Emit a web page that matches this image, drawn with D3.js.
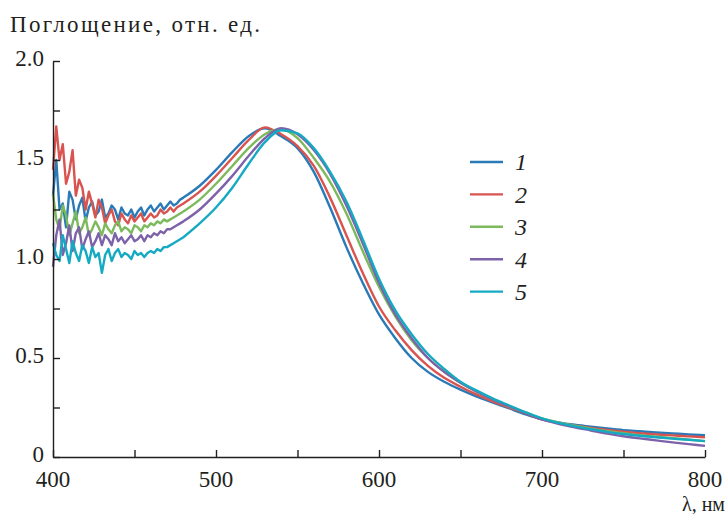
<!DOCTYPE html>
<html>
<head>
<meta charset="utf-8">
<script src="https://cdn.jsdelivr.net/npm/d3@7"></script>
<style>
  body { margin: 0; background: #fff; }
</style>
</head>
<body>
<svg id="chart" width="728" height="514"></svg>
<script>
// wavelengths, nm: dense where the spectra are noisy, coarser afterwards
const wavelengths = [
  400, 402, 404, 406, 408, 410, 412, 414, 416, 418,
  420, 422, 424, 426, 428, 430, 432, 434, 436, 438,
  440, 442, 444, 446, 448, 450, 452, 454, 456, 458,
  460, 462, 464, 466, 468, 470, 472, 474, 476, 478,
  480, 490, 500, 510, 520, 530, 540, 550, 560, 570,
  580, 590, 600, 610, 620, 630, 640, 650, 660, 670,
  680, 690, 700, 710, 720, 730, 740, 750, 760, 770,
  780, 790, 800
];

const series1 = [
  1.32, 1.50, 1.25, 1.28, 1.16, 1.34, 1.30, 1.20, 1.27, 1.31,
  1.19, 1.26, 1.29, 1.22, 1.24, 1.30, 1.21, 1.23, 1.27, 1.25,
  1.20, 1.26, 1.23, 1.22, 1.25, 1.21, 1.24, 1.26, 1.22, 1.25,
  1.27, 1.24, 1.26, 1.28, 1.25, 1.27, 1.29, 1.27, 1.28, 1.30,
  1.31, 1.37, 1.45, 1.54, 1.62, 1.66, 1.62, 1.56, 1.44, 1.26,
  1.06, 0.88, 0.72, 0.60, 0.50, 0.43, 0.38, 0.34, 0.305, 0.275,
  0.245, 0.215, 0.19, 0.175, 0.163, 0.153, 0.144, 0.136, 0.13, 0.124,
  0.119, 0.114, 0.11
];
const series2 = [
  1.45, 1.67, 1.50, 1.58, 1.38, 1.44, 1.55, 1.32, 1.40, 1.36,
  1.25, 1.34, 1.28, 1.21, 1.30, 1.26, 1.18, 1.22, 1.25, 1.19,
  1.17, 1.23, 1.20, 1.18, 1.22, 1.19, 1.21, 1.23, 1.19, 1.21,
  1.23, 1.21, 1.22, 1.25, 1.23, 1.24, 1.26, 1.24, 1.26, 1.27,
  1.28, 1.34, 1.42, 1.51, 1.60, 1.665, 1.63, 1.57, 1.47, 1.31,
  1.12, 0.93, 0.76, 0.64, 0.54, 0.46, 0.40, 0.355, 0.315, 0.28,
  0.25, 0.22, 0.19, 0.172, 0.158, 0.147, 0.137, 0.128, 0.12, 0.114,
  0.109, 0.104, 0.10
];
const series3 = [
  1.33, 1.20, 1.15, 1.27, 1.22, 1.12, 1.18, 1.24, 1.13, 1.16,
  1.21, 1.12, 1.15, 1.19, 1.16, 1.12, 1.18, 1.15, 1.13, 1.17,
  1.19, 1.14, 1.16, 1.15, 1.13, 1.17, 1.16, 1.14, 1.17, 1.16,
  1.18, 1.17, 1.19, 1.18, 1.20, 1.19, 1.20, 1.21, 1.22, 1.23,
  1.24, 1.30, 1.38, 1.47, 1.56, 1.63, 1.655, 1.61, 1.51, 1.39,
  1.23, 1.04, 0.86, 0.71, 0.59, 0.50, 0.43, 0.375, 0.33, 0.29,
  0.255, 0.225, 0.195, 0.175, 0.158, 0.143, 0.13, 0.12, 0.11, 0.102,
  0.095, 0.088, 0.08
];
const series4 = [
  0.96, 1.12, 1.20, 1.02, 1.08, 1.17, 1.04, 1.13, 1.16, 1.05,
  1.10, 1.14, 1.06, 1.09, 1.13, 1.07, 1.12, 1.10, 1.07, 1.13,
  1.09, 1.11, 1.08, 1.10, 1.12, 1.09, 1.10, 1.12, 1.09, 1.12,
  1.11, 1.13, 1.12, 1.14, 1.13, 1.15, 1.15, 1.16, 1.17, 1.18,
  1.19, 1.25, 1.33, 1.42, 1.52, 1.61, 1.66, 1.63, 1.55, 1.43,
  1.27, 1.08, 0.88, 0.72, 0.60, 0.50, 0.43, 0.375, 0.33, 0.29,
  0.255, 0.222, 0.19, 0.168, 0.15, 0.134, 0.118, 0.105, 0.094, 0.084,
  0.074, 0.065, 0.056
];
const series5 = [
  1.08, 1.02, 0.99, 1.12, 1.05, 0.98, 1.09, 1.03, 0.99, 1.07,
  1.04, 0.98, 1.06, 1.01, 1.03, 0.93, 1.02, 1.05, 0.99, 1.03,
  1.05, 1.01, 1.03, 1.02, 1.00, 1.04, 1.02, 1.03, 1.01, 1.03,
  1.04, 1.03, 1.05, 1.04, 1.06, 1.06, 1.07, 1.08, 1.09, 1.10,
  1.11, 1.18, 1.26, 1.36, 1.48, 1.59, 1.65, 1.635, 1.56, 1.44,
  1.29, 1.10, 0.90, 0.74, 0.62, 0.52, 0.445, 0.38, 0.335, 0.295,
  0.26, 0.225, 0.195, 0.172, 0.155, 0.14, 0.127, 0.116, 0.107, 0.10,
  0.093, 0.087, 0.08
];

const seriesLabels = ["1", "2", "3", "4", "5"];
const seriesColors = ["#2a7ab8", "#d9534f", "#7cba5d", "#7d62aa", "#16aac2"];
const xTickLabels = [400, 500, 600, 700, 800];
const yTickLabels = [0, 0.5, 1.0, 1.5, 2.0];

const fontFamily = "'Liberation Serif', 'DejaVu Serif', 'Times New Roman', serif";
const ink = "#231f20";

const svg = d3.select("#chart");
const margin = { left: 53, right: 705, top: 61, bottom: 457 };

const x = d3.scaleLinear().domain([400, 800]).range([margin.left, margin.right]);
const y = d3.scaleLinear().domain([0, 2]).range([margin.bottom, margin.top]);

const allSeries = [series1, series2, series3, series4, series5];
const splitIndex = wavelengths.indexOf(480);

// noisy part joined straight, smooth part with a monotone curve
const noisyLine = d3.line()
  .x(d => x(d[0]))
  .y(d => y(d[1]));
const smoothLine = d3.line()
  .x(d => x(d[0]))
  .y(d => y(d[1]))
  .curve(d3.curveMonotoneX);

const g = svg.append("g");
allSeries.forEach((s, k) => {
  const pts = s.map((v, i) => [wavelengths[i], v]);
  const d = noisyLine(pts.slice(0, splitIndex + 1)) +
    smoothLine(pts.slice(splitIndex)).replace(/^M/, "L");
  g.append("path")
    .attr("d", d)
    .attr("fill", "none")
    .attr("stroke", seriesColors[k])
    .attr("stroke-width", 2.4)
    .attr("stroke-linejoin", "round");
});

// axes (ticks point inward, labels drawn separately)
const xAxis = d3.axisBottom(x)
  .tickValues(d3.range(400, 801, 50))
  .tickSizeInner(-7)
  .tickSizeOuter(0)
  .tickFormat("");
svg.append("g")
  .attr("transform", `translate(0,${margin.bottom})`)
  .call(xAxis)
  .call(a => a.selectAll("line, path").attr("stroke", ink).attr("stroke-width", 1.4));

const yAxis = d3.axisLeft(y)
  .tickValues(d3.range(0, 2.01, 0.25))
  .tickSizeInner(-7)
  .tickSizeOuter(0)
  .tickFormat("");
svg.append("g")
  .attr("transform", `translate(${margin.left},0)`)
  .call(yAxis)
  .call(a => a.selectAll("line, path").attr("stroke", ink).attr("stroke-width", 1.4));

// tick labels
svg.selectAll("text.xlab")
  .data(xTickLabels)
  .enter()
  .append("text")
  .attr("class", "xlab")
  .attr("x", d => x(d))
  .attr("y", 487)
  .attr("text-anchor", "middle")
  .attr("font-family", fontFamily)
  .attr("font-size", 23)
  .attr("fill", ink)
  .text(d => d);

svg.selectAll("text.ylab")
  .data(yTickLabels)
  .enter()
  .append("text")
  .attr("class", "ylab")
  .attr("x", 44)
  .attr("y", d => y(d) - 3)
  .attr("dy", "0.35em")
  .attr("text-anchor", "end")
  .attr("font-family", fontFamily)
  .attr("font-size", 23)
  .attr("fill", ink)
  .text(d => d === 0 ? "0" : d.toFixed(1));

// axis titles
svg.append("text")
  .attr("x", 10)
  .attr("y", 32)
  .attr("font-family", fontFamily)
  .attr("font-size", 23)
  .attr("textLength", 250)
  .attr("lengthAdjust", "spacing")
  .attr("fill", ink)
  .text("Поглощение, отн. ед.");

svg.append("text")
  .attr("x", 725)
  .attr("y", 511)
  .attr("text-anchor", "end")
  .attr("font-family", fontFamily)
  .attr("font-size", 20)
  .attr("fill", ink)
  .text("λ, нм");

// legend
const legend = svg.append("g").attr("transform", "translate(470,162)");
const items = legend.selectAll("g")
  .data(seriesLabels)
  .enter()
  .append("g")
  .attr("transform", (d, i) => `translate(0,${i * 32.4})`);

items.append("line")
  .attr("x1", 0).attr("x2", 33)
  .attr("y1", 0).attr("y2", 0)
  .attr("stroke", (d, i) => seriesColors[i])
  .attr("stroke-width", 2.4);

items.append("text")
  .attr("x", 45)
  .attr("dy", "0.35em")
  .attr("font-family", fontFamily)
  .attr("font-size", 24)
  .attr("font-style", "italic")
  .attr("fill", ink)
  .text(d => d);
</script>
</body>
</html>
